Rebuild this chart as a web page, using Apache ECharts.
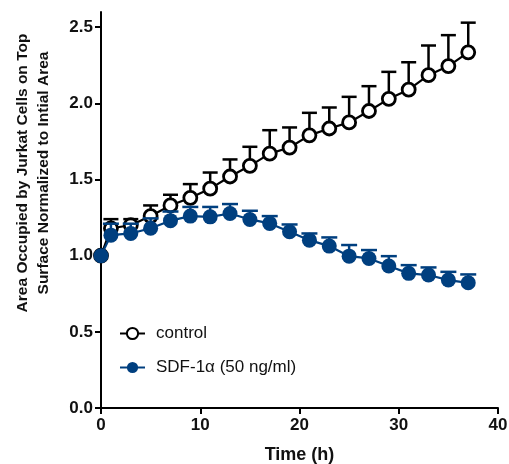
<!DOCTYPE html>
<html>
<head>
<meta charset="utf-8">
<script src="https://cdn.jsdelivr.net/npm/echarts@6/dist/echarts.min.js"></script>
<style>
  html, body { margin: 0; padding: 0; background: #fff; }
  #main { width: 509px; height: 464px; }
</style>
</head>
<body>
<div id="main"></div>
<script>
// time points (h)
var hours = [0, 1, 3, 5, 7, 9, 11, 13, 15, 17, 19, 21, 23, 25, 27, 29, 31, 33, 35, 37];
// control: mean and upper error
var controlMean = [1.0, 1.18, 1.2, 1.26, 1.33, 1.38, 1.44, 1.52, 1.59, 1.67, 1.71, 1.79, 1.835, 1.875, 1.95, 2.03, 2.09, 2.185, 2.245, 2.335];
var controlErr = [0, 0.06, 0.04, 0.07, 0.07, 0.09, 0.106, 0.112, 0.125, 0.154, 0.132, 0.148, 0.138, 0.168, 0.163, 0.177, 0.18, 0.195, 0.203, 0.195];
// SDF-1a 50 ng/ml
var sdfMean = [1.0, 1.135, 1.146, 1.18, 1.23, 1.26, 1.255, 1.277, 1.238, 1.212, 1.157, 1.102, 1.063, 0.997, 0.982, 0.932, 0.884, 0.873, 0.84, 0.822];
var sdfErr = [0, 0.075, 0.064, 0.065, 0.06, 0.06, 0.065, 0.062, 0.057, 0.048, 0.048, 0.044, 0.057, 0.073, 0.055, 0.065, 0.054, 0.05, 0.054, 0.055];
var yTicks = [0, 0.5, 1.0, 1.5, 2.0, 2.5];

var blue = '#003f7f';

function pairs(ys) {
    var out = [];
    for (var i = 0; i < hours.length; i++) out.push([hours[i], ys[i]]);
    return out;
}
function triples(ys, es) {
    var out = [];
    for (var i = 0; i < hours.length; i++) out.push([hours[i], ys[i], es[i]]);
    return out;
}
//误差线（只画上半部分）
function errRender(color, lw, hw) {
    return function (params, api) {
        var x = api.value(0), y = api.value(1), e = api.value(2);
        if (!e) return null;
        var p0 = api.coord([x, y]);
        var p1 = api.coord([x, y + e]);
        return {
            type: 'group',
            children: [
                {type: 'line', shape: {x1: p0[0], y1: p0[1], x2: p1[0], y2: p1[1]}, style: {stroke: color, lineWidth: lw}},
                {type: 'line', shape: {x1: p1[0] - hw, y1: p1[1], x2: p1[0] + hw, y2: p1[1]}, style: {stroke: color, lineWidth: lw}}
            ]
        };
    };
}

var myChart = echarts.init(document.getElementById('main'));
var options = {
    animation: false,
    grid: {left: 101, right: 11, top: 12, bottom: 56, containLabel: false, outerBoundsMode: 'none'},
    legend: {
        orient: 'vertical',
        left: 119,
        top: 325,
        padding: 0,
        itemWidth: 25,
        itemHeight: 14,
        itemGap: 17,
        textStyle: {fontFamily: 'Liberation Sans', fontSize: 17, color: '#111', padding: [0, 0, 0, 6]},
        data: ['control', 'SDF-1α (50 ng/ml)']
    },
    graphic: [{
        type: 'text',
        x: 33,
        y: 173,
        rotation: Math.PI / 2,
        style: {
            text: 'Area Occupied by Jurkat Cells on Top\nSurface Normalized to Intial Area',
            font: 'bold 15.5px "Liberation Sans"',
            fill: '#111',
            align: 'center',
            verticalAlign: 'middle',
            lineHeight: 21
        }
    }],
    xAxis: {
        type: 'value',
        min: 0,
        max: 40,
        interval: 10,
        name: 'Time (h)',
        nameLocation: 'middle',
        nameGap: 38,
        nameTextStyle: {fontFamily: 'Liberation Sans', fontWeight: 'bold', fontSize: 18, color: '#111'},
        axisLine: {lineStyle: {color: '#000', width: 2}},
        axisTick: {show: true, length: 6, lineStyle: {color: '#000', width: 2}},
        axisLabel: {fontFamily: 'Liberation Sans', fontWeight: 'bold', fontSize: 17, color: '#111', margin: 9},
        splitLine: {show: false}
    },
    yAxis: {
        type: 'value',
        min: 0,
        max: 2.6,
        axisLine: {show: true, lineStyle: {color: '#000', width: 2}},
        axisTick: {show: true, length: 6, lineStyle: {color: '#000', width: 2}, customValues: yTicks},
        axisLabel: {
            fontFamily: 'Liberation Sans', fontWeight: 'bold', fontSize: 17, color: '#111', margin: 8,
            customValues: yTicks,
            formatter: function (v) { return v.toFixed(1); }
        },
        splitLine: {show: false}
    },
    series: [
        {
            name: 'controlErr',
            type: 'custom',
            renderItem: errRender('#000', 2.5, 7.5),
            data: triples(controlMean, controlErr),
            z: 2
        },
        {
            name: 'control',
            type: 'line',
            data: pairs(controlMean),
            symbol: 'circle',
            symbolSize: 13,
            lineStyle: {color: '#000', width: 2.2},
            itemStyle: {color: '#fff', borderColor: '#000', borderWidth: 2.8},
            z: 3
        },
        {
            name: 'sdfErr',
            type: 'custom',
            renderItem: errRender(blue, 2.5, 8),
            data: triples(sdfMean, sdfErr),
            z: 4
        },
        {
            name: 'SDF-1α (50 ng/ml)',
            type: 'line',
            data: pairs(sdfMean),
            symbol: 'circle',
            symbolSize: 15,
            lineStyle: {color: blue, width: 2.2},
            itemStyle: {color: blue, borderColor: blue, borderWidth: 0},
            z: 5
        }
    ]
};
myChart.setOption(options);
</script>
</body>
</html>
